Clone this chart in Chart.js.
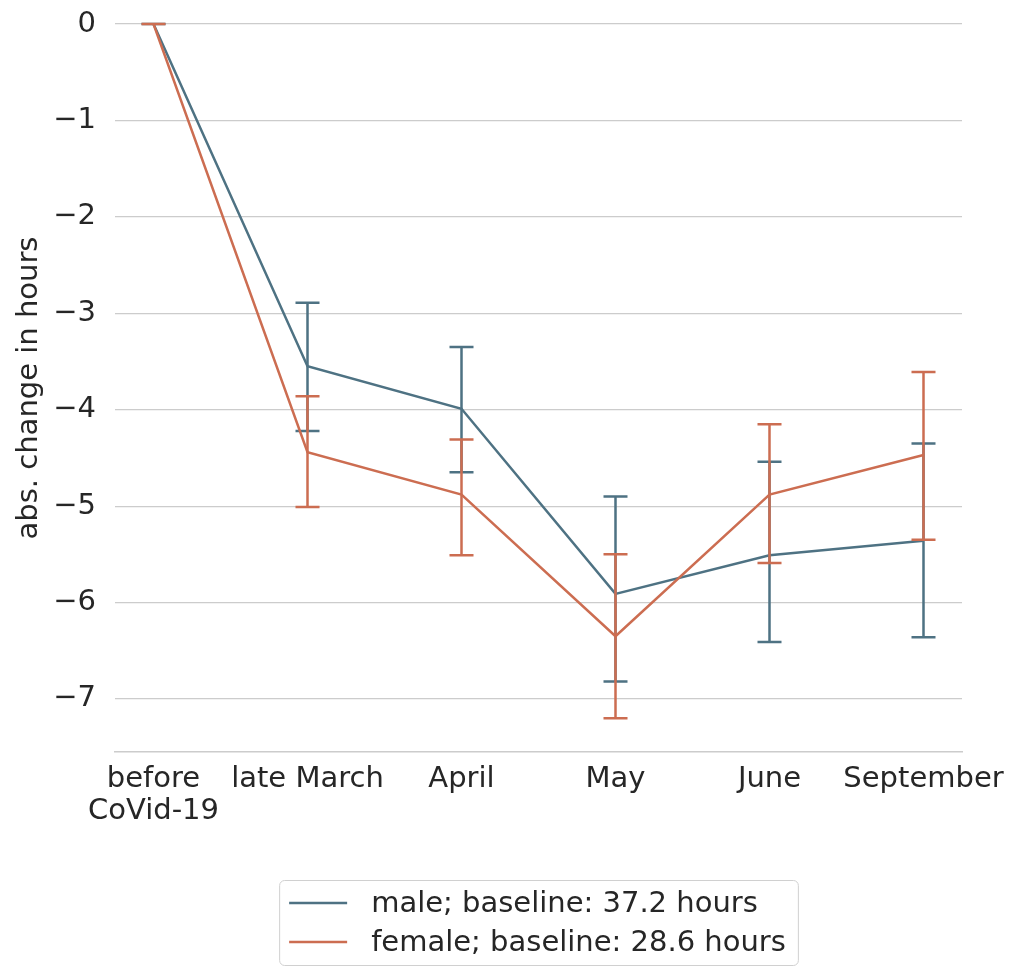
<!DOCTYPE html>
<html lang="en">
<head>
<meta charset="UTF-8" />
<script src="https://cdn.jsdelivr.net/npm/chart.js@4.4.1/dist/chart.umd.min.js"></script>
<title>abs. change in hours</title>
<style>
  html, body { margin: 0; padding: 0; background: #fff; }
  #wrap { width: 1010px; height: 968px; }
</style>
</head>
<body>
<div id="wrap"><canvas id="chart" width="1010" height="968"></canvas></div>
<script>
const categories = [['before', 'CoVid-19'], 'late March', 'April', 'May', 'June', 'September'];
const yTicks = [0, -1, -2, -3, -4, -5, -6, -7];

const maleLabel = 'male; baseline: 37.2 hours';
const maleMean = [0, -3.55, -3.99, -5.91, -5.51, -5.36];
const maleLow = [0, -4.22, -4.65, -6.82, -6.41, -6.36];
const maleHigh = [0, -2.89, -3.35, -4.90, -4.54, -4.35];

const femaleLabel = 'female; baseline: 28.6 hours';
const femaleMean = [0, -4.44, -4.88, -6.35, -4.88, -4.47];
const femaleLow = [0, -5.01, -5.51, -7.20, -5.59, -5.35];
const femaleHigh = [0, -3.86, -4.31, -5.50, -4.15, -3.61];

const maleColor = '#4e7283';
const femaleColor = '#cc6d51';
const textColor = '#262626';
const fontFamily = '"DejaVu Sans", sans-serif';
const fontSize = 29;

function points(arr) {
  return arr.map((v, i) => ({ x: i, y: v }));
}

// vertical error bars with caps, drawn right after each line
const errorBars = {
  id: 'errorBars',
  afterDatasetDraw(chart, args) {
    const ds = chart.data.datasets[args.index];
    if (!ds.low) return;
    const ctx = chart.ctx;
    const xs = chart.scales.x, ys = chart.scales.y;
    ctx.save();
    ctx.strokeStyle = ds.borderColor;
    ctx.lineWidth = 2.5;
    ds.low.forEach((lo, i) => {
      const x = xs.getPixelForValue(i);
      const y1 = ys.getPixelForValue(lo);
      const y2 = ys.getPixelForValue(ds.high[i]);
      ctx.beginPath();
      ctx.moveTo(x, y1); ctx.lineTo(x, y2);
      ctx.moveTo(x - 12, y1); ctx.lineTo(x + 12, y1);
      ctx.moveTo(x - 12, y2); ctx.lineTo(x + 12, y2);
      ctx.stroke();
    });
    ctx.restore();
  }
};

// boxed legend under the axis, one entry per row
const boxLegend = {
  id: 'boxLegend',
  afterDraw(chart) {
    const ctx = chart.ctx;
    const area = chart.chartArea;
    const dsets = chart.data.datasets;
    ctx.save();
    ctx.font = fontSize + 'px ' + fontFamily;
    const textW = Math.max(...dsets.map(d => ctx.measureText(d.label).width));
    const w = 10 + 58 + 24 + textW + 12;
    const left = (area.left + area.right) / 2 - w / 2;
    const top = 880;
    const rowH = 39;
    const h = 23 * 2 + rowH * (dsets.length - 1);
    ctx.fillStyle = '#fff';
    ctx.strokeStyle = '#d0d0d0';
    ctx.lineWidth = 1;
    ctx.beginPath();
    ctx.roundRect(left + 0.5, top + 0.5, w, h, 5);
    ctx.fill();
    ctx.stroke();
    dsets.forEach((d, i) => {
      const y = top + 23 + i * rowH;
      ctx.strokeStyle = d.borderColor;
      ctx.lineWidth = 2.5;
      ctx.beginPath();
      ctx.moveTo(left + 10, y); ctx.lineTo(left + 68, y);
      ctx.stroke();
      ctx.fillStyle = textColor;
      ctx.textBaseline = 'middle';
      ctx.textAlign = 'left';
      ctx.fillText(d.label, left + 92, y + 1);
    });
    ctx.restore();
  }
};

new Chart(document.getElementById('chart'), {
  type: 'line',
  data: {
    datasets: [
      { label: maleLabel, data: points(maleMean), low: maleLow, high: maleHigh,
        borderColor: maleColor, borderWidth: 2.5, pointRadius: 0, tension: 0, order: 2 },
      { label: femaleLabel, data: points(femaleMean), low: femaleLow, high: femaleHigh,
        borderColor: femaleColor, borderWidth: 2.5, pointRadius: 0, tension: 0, order: 1 }
    ]
  },
  options: {
    responsive: false,
    animation: false,
    layout: { padding: { top: 24, right: 48, left: 0, bottom: 0 } },
    plugins: { legend: { display: false }, tooltip: { enabled: false } },
    scales: {
      x: {
        type: 'linear',
        min: -0.25,
        max: 5.25,
        afterBuildTicks: s => { s.ticks = categories.map((_, i) => ({ value: i })); },
        afterFit: s => { s.height = 216; s.paddingLeft = 0; s.paddingRight = 0; },
        grid: { display: false, drawTicks: false },
        border: { display: true, color: '#cccccc', width: 1.5 },
        ticks: {
          padding: 12,
          color: textColor,
          maxRotation: 0,
          autoSkip: false,
          font: { family: fontFamily, size: fontSize, lineHeight: 1.1 },
          callback: v => categories[v]
        }
      },
      y: {
        min: -7.55,
        max: 0,
        afterBuildTicks: s => { s.ticks = yTicks.map(v => ({ value: v })); },
        afterFit: s => { s.width = 115; s.paddingTop = 0; s.paddingBottom = 0; },
        grid: { color: '#cccccc', lineWidth: 1.2, drawTicks: false },
        border: { display: false },
        ticks: {
          padding: 19,
          color: textColor,
          font: { family: fontFamily, size: fontSize },
          callback: v => (v < 0 ? '\u2212' + Math.abs(v) : String(v))
        },
        title: {
          display: true,
          text: 'abs. change in hours',
          color: textColor,
          font: { family: fontFamily, size: fontSize },
          padding: { top: 12, bottom: 0 }
        }
      }
    }
  },
  plugins: [errorBars, boxLegend]
});
</script>
</body>
</html>
